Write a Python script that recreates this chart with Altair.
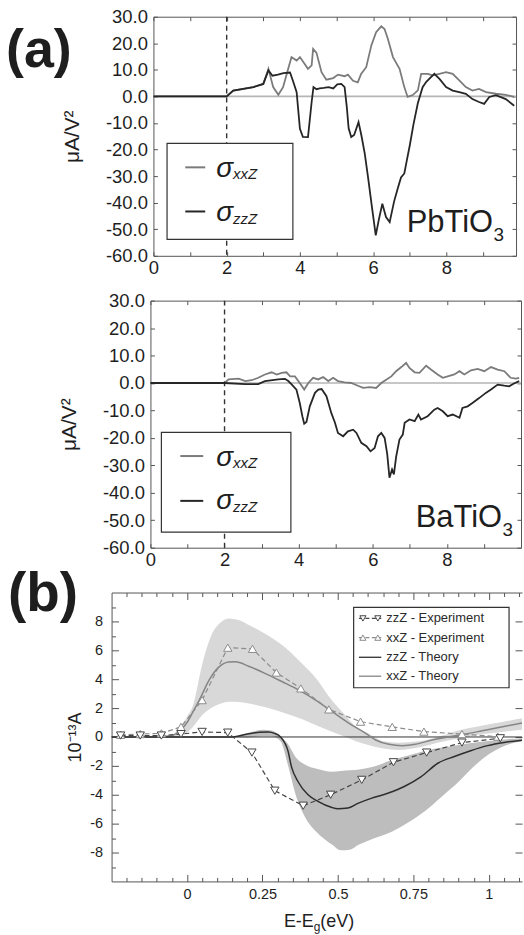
import altair as alt
import pandas as pd

FONT = "Liberation Sans"
INK = "#1e1e1e"
FRAME = "#555555"
XX_COLOR = "#7b7b7b"
ZZ_COLOR = "#262626"

# ---------------- (a) computed shift current, uA/V^2 vs photon energy (eV)
gap_e = [2.0]

pb_xx_e = [0.0, 2.0, 2.18, 2.73, 3.0, 3.14, 3.27, 3.41, 3.54, 3.68, 3.77, 3.91, 4.0, 4.13,
           4.22, 4.32, 4.36, 4.45, 4.59, 4.72, 4.91, 5.04, 5.22, 5.31, 5.45, 5.58, 5.67,
           5.81, 5.95, 6.08, 6.22, 6.31, 6.4, 6.54, 6.72, 6.85, 6.94, 7.08, 7.22, 7.31,
           7.49, 7.62, 7.81, 7.99, 8.17, 8.35, 8.53, 8.71, 8.89, 9.08, 9.35, 9.62, 9.85]
pb_xx_s = [0.0, 0.0, 2.2, 3.5, 4.7, 10.4, 3.5, 0.6, 3.5, 10.4, 14.8, 13.5, 14.8, 12.2,
           10.4, 11.7, 17.9, 16.5, 9.1, 6.3, 6.9, 8.2, 7.6, 8.2, 5.9, 5.3, 8.5,
           11.0, 19.2, 24.2, 26.4, 25.4, 21.7, 14.8, 10.4, 3.5, -0.2, 0.5, 2.3, 8.5,
           8.5, 7.9, 8.5, 9.1, 8.5, 6.0, 3.5, 2.2, 2.8, 1.6, 1.0, 0.6, -0.2]

pb_zz_e = [0.0, 2.0, 2.18, 2.73, 3.0, 3.14, 3.25, 3.4, 3.55, 3.73, 3.82, 3.91, 4.0, 4.08,
           4.22, 4.32, 4.37, 4.45, 4.54, 4.65, 4.78, 4.91, 5.02, 5.13, 5.22, 5.28, 5.33,
           5.4, 5.48, 5.6, 5.68, 5.77, 5.86, 5.96, 6.07, 6.16, 6.25, 6.35, 6.45, 6.57,
           6.67, 6.76, 6.85, 6.92, 7.0, 7.1, 7.22, 7.35, 7.45, 7.53, 7.67, 7.81, 7.99,
           8.17, 8.35, 8.53, 8.71, 8.89, 9.03, 9.17, 9.35, 9.62, 9.85]
pb_zz_s = [0.0, 0.0, 2.2, 3.5, 4.7, 9.8, 7.8, 8.2, 8.8, 9.0, 5.4, 1.6, -12.2, -15.2,
           -15.3, -2.1, 3.5, 2.7, 3.0, 3.2, 3.5, 3.0, 4.5, 4.7, 3.5, -4.0, -12.0,
           -15.3, -14.5, -9.7, -14.8, -21.5, -30.5, -41.0, -52.3, -46.0, -40.4, -45.4, -47.3, -39.6,
           -34.7, -30.5, -29.0, -24.0, -18.4, -10.5, -2.5, 3.5, 5.5, 6.6, 8.5, 6.6, 3.5,
           2.2, 1.6, 1.0, -1.0, -2.1, -2.8, -0.2, 0.5, -1.0, -3.5]

ba_xx_e = [0.0, 2.0, 2.11, 2.38, 2.56, 2.73, 2.91, 3.09, 3.27, 3.41, 3.54, 3.67, 3.77, 3.9,
           4.03, 4.15, 4.26, 4.39, 4.53, 4.66, 4.8, 4.93, 5.06, 5.24, 5.42, 5.6, 5.74,
           5.92, 6.09, 6.23, 6.36, 6.5, 6.63, 6.77, 6.9, 6.99, 7.13, 7.26, 7.44, 7.57,
           7.75, 7.89, 8.02, 8.2, 8.34, 8.47, 8.65, 8.83, 9.01, 9.19, 9.37, 9.55, 9.72,
           9.86, 9.95]
ba_xx_s = [0.0, 0.0, 1.3, 1.6, 0.7, 1.0, 1.9, 3.1, 3.9, 3.1, 3.7, 3.9, 2.4, 2.4,
           0.0, -2.4, 0.0, 1.9, 1.3, 2.2, 0.7, 1.9, 0.7, 0.2, 0.0, -1.0, -1.8,
           -1.5, -1.8, 0.0, 1.2, 2.4, 4.3, 5.8, 7.3, 5.5, 3.9, 3.7, 6.3, 4.9,
           3.1, 1.9, 2.4, 3.1, 4.3, 3.1, 4.6, 5.1, 4.3, 5.8, 4.9, 4.3, 1.9,
           1.6, 1.9]

ba_zz_e = [0.0, 2.0, 2.56, 2.91, 3.09, 3.45, 3.63, 3.72, 3.81, 3.94, 4.03, 4.1, 4.15, 4.21,
           4.3, 4.44, 4.53, 4.62, 4.75, 4.88, 4.98, 5.06, 5.2, 5.33, 5.47, 5.56, 5.69,
           5.83, 5.94, 6.05, 6.14, 6.23, 6.32, 6.39, 6.45, 6.52, 6.57, 6.63, 6.72, 6.81,
           6.86, 6.99, 7.13, 7.23, 7.3, 7.48, 7.66, 7.75, 7.89, 8.02, 8.16, 8.34, 8.42,
           8.56, 8.69, 8.87, 9.05, 9.19, 9.37, 9.55, 9.68, 9.81, 9.95]
ba_zz_s = [0.0, 0.0, -0.4, -0.4, 0.7, 1.3, 1.5, 0.7, -0.5, -2.4, -7.3, -12.1, -14.8, -14.2,
           -8.5, -3.6, -2.4, -2.2, -4.8, -10.9, -14.5, -18.2, -19.4, -17.6, -17.0, -18.2, -21.8,
           -23.0, -24.9, -23.7, -19.4, -18.2, -20.0, -25.9, -34.5, -31.5, -33.3, -26.9, -20.6, -18.8,
           -14.5, -13.3, -13.9, -11.5, -13.3, -12.1, -9.7, -9.1, -10.3, -12.1, -11.5, -12.7, -9.1,
           -8.5, -7.3, -5.5, -3.6, -2.4, -0.6, -1.0, -1.2, -0.2, 0.7]

# ---------------- (b) measured and computed current, 10^-13 A vs E - Eg (eV)
exp_zz_e = [-0.22, -0.155, -0.085, -0.02, 0.05, 0.135, 0.215, 0.291, 0.385, 0.476, 0.579,
            0.684, 0.794, 0.911, 1.038]
exp_zz_j = [0.1, 0.1, 0.1, 0.2, 0.35, 0.3, -1.08, -3.72, -4.76, -4.0, -2.97,
            -1.75, -1.08, -0.39, -0.09]
exp_xx_e = [-0.22, -0.155, -0.085, -0.02, 0.05, 0.135, 0.217, 0.296, 0.377, 0.47, 0.575,
            0.68, 0.785, 0.911, 1.03]
exp_xx_j = [0.15, 0.2, 0.25, 0.7, 2.55, 6.18, 6.1, 4.46, 3.36, 1.91, 1.06,
            0.7, 0.37, 0.2, 0.02]

th_xx_e = [-0.25, -0.1, -0.05, -0.02, 0.0, 0.02, 0.046, 0.073, 0.106, 0.139, 0.16, 0.204,
           0.26, 0.316, 0.371, 0.426, 0.481, 0.537, 0.592, 0.625, 0.669, 0.713, 0.757,
           0.812, 0.868, 0.923, 0.978, 1.033, 1.11]
th_xx_j = [0.0, 0.0, 0.1, 0.5, 1.0, 1.75, 2.78, 3.93, 4.85, 5.19, 5.2, 4.9,
           4.39, 3.82, 3.24, 2.55, 1.75, 0.94, 0.25, -0.21, -0.51, -0.6, -0.51,
           -0.21, 0.02, 0.2, 0.43, 0.66, 0.97]

th_zz_e = [-0.25, 0.15, 0.2, 0.24, 0.27, 0.29, 0.31, 0.335, 0.346, 0.368, 0.401, 0.434,
           0.478, 0.5, 0.533, 0.566, 0.61, 0.665, 0.72, 0.776, 0.831, 0.886, 0.94,
           0.996, 1.05, 1.11]
th_zz_j = [0.0, 0.0, 0.2, 0.33, 0.35, 0.25, 0.0, -1.0, -2.05, -3.1, -4.0, -4.46,
           -4.87, -4.97, -4.92, -4.6, -4.25, -3.9, -3.43, -2.74, -1.82, -1.35, -0.95,
           -0.6, -0.38, -0.22]

band_xx_e = [-0.05, 0.0, 0.02, 0.05, 0.08, 0.11, 0.14, 0.17, 0.21, 0.27, 0.33, 0.38, 0.43,
             0.47, 0.52, 0.56, 0.6, 0.65, 0.7, 0.77, 0.83, 0.9, 0.98, 1.05, 1.11]
band_xx_lo = [0.0, 0.3, 0.7, 1.5, 2.0, 2.3, 2.43, 2.42, 2.3, 2.0, 1.6, 1.25, 0.8,
              0.45, 0.05, -0.3, -0.55, -0.8, -0.9, -0.72, -0.4, -0.1, 0.2, 0.37, 0.5]
band_xx_hi = [0.05, 1.4, 2.2, 5.0, 7.0, 7.9, 8.2, 8.1, 7.7, 7.0, 6.1, 5.1, 4.0,
              2.8, 1.6, 0.7, 0.25, -0.3, -0.4, -0.3, 0.0, 0.45, 0.8, 1.06, 1.3]

band_zz_e = [0.15, 0.2, 0.25, 0.28, 0.31, 0.335, 0.36, 0.39, 0.43, 0.48, 0.51, 0.54, 0.57,
             0.61, 0.68, 0.73, 0.79, 0.84, 0.9, 0.95, 1.0, 1.06, 1.11]
band_zz_lo = [0.0, -0.05, 0.05, 0.05, -0.3, -2.0, -4.0, -5.5, -6.6, -7.45, -7.85, -7.8, -7.45,
              -7.1, -6.55, -5.95, -5.1, -4.2, -3.1, -2.05, -1.2, -0.55, -0.3]
band_zz_hi = [0.0, 0.25, 0.5, 0.45, 0.05, -0.5, -1.4, -1.9, -2.2, -2.4, -2.35, -2.3, -2.25,
              -2.1, -1.6, -1.3, -0.95, -0.75, -0.55, -0.4, -0.28, -0.15, -0.08]

b_legend_labels = ["zzZ - Experiment", "xxZ - Experiment", "zzZ - Theory", "xxZ - Theory"]

# tick values
a_x_labels = [0, 2, 4, 6, 8]
a_x_ticks = [0, 1, 2, 3, 4, 5, 6, 7, 8, 9]
a_y_values = [-60, -50, -40, -30, -20, -10, 0, 10, 20, 30]
b_x_labels = [0, 0.25, 0.5, 0.75, 1.0]
b_x_ticks = [round(-0.2 + 0.05 * i, 2) for i in range(27)]
b_y_labels = [-8, -6, -4, -2, 0, 2, 4, 6, 8]
b_y_ticks = list(range(-9, 10))
b_y_right = [-8, -6, -4, -2, 0, 2, 4, 6, 8]

for a, b in [(pb_xx_e, pb_xx_s), (pb_zz_e, pb_zz_s), (ba_xx_e, ba_xx_s), (ba_zz_e, ba_zz_s),
             (exp_zz_e, exp_zz_j), (exp_xx_e, exp_xx_j), (th_xx_e, th_xx_j), (th_zz_e, th_zz_j),
             (band_xx_e, band_xx_lo), (band_xx_e, band_xx_hi), (band_zz_e, band_zz_lo),
             (band_zz_e, band_zz_hi)]:
    assert len(a) == len(b)

one = pd.DataFrame({"k": [0]})


def text(s, x, y, size, **kw):
    props = dict(font=FONT, color=INK, align="left", baseline="alphabetic")
    props.update(kw)
    return alt.Chart(one).mark_text(text=s, fontSize=size, **props).encode(
        x=alt.value(x), y=alt.value(y))


def hline(x0, x1, y, color, width=2.0, dash=None):
    kw = dict(color=color, strokeWidth=width)
    if dash:
        kw["strokeDash"] = dash
    return alt.Chart(one).mark_rule(**kw).encode(
        x=alt.value(x0), x2=alt.value(x1), y=alt.value(y))


def box(x0, x1, y0, y1):
    return alt.Chart(one).mark_rect(fill="white", stroke="#333333", strokeWidth=1.2).encode(
        x=alt.value(x0), x2=alt.value(x1), y=alt.value(y0), y2=alt.value(y1))


def carrier(xs, ys, xv, yv, ax, ay):
    df = pd.DataFrame({"cx": [xv], "cy": [yv]})
    return alt.Chart(df).mark_point(opacity=0).encode(
        x=alt.X("cx:Q", scale=xs, axis=ax),
        y=alt.Y("cy:Q", scale=ys, axis=ay))


def tick_axis(orient, offset, values, size, domain=True):
    return alt.Axis(orient=orient, offset=offset, values=values, labels=False, ticks=True,
                    tickSize=size, tickColor=FRAME, tickWidth=1, domain=domain,
                    domainColor=FRAME, domainWidth=1, grid=False, title=None, minExtent=0)


def panel_a(xx_e, xx_s, zz_e, zz_s, W, H, xoff, xmax, leg, name, tag=None):
    xs = alt.Scale(domain=[0, xmax], range=[xoff, W], nice=False, zero=False)
    ys = alt.Scale(domain=[-60, 30], nice=False, zero=False)

    xx = pd.DataFrame({"e": xx_e, "s": xx_s})
    zz = pd.DataFrame({"e": zz_e, "s": zz_s})
    zero = pd.DataFrame({"e0": [0.0], "e1": [xmax], "s0": [0.0]})
    gap = pd.DataFrame({"e": gap_e})

    layers = [
        alt.Chart(zero).mark_rule(color="#b5b5b5", strokeWidth=1.6).encode(
            x=alt.X("e0:Q", scale=xs, axis=None), x2="e1:Q",
            y=alt.Y("s0:Q", scale=ys, axis=None)),
        alt.Chart(gap).mark_rule(color="#333333", strokeWidth=1.4, strokeDash=[5, 4]).encode(
            x=alt.X("e:Q", scale=xs, axis=None)),
        alt.Chart(xx).mark_line(color=XX_COLOR, strokeWidth=1.8).encode(
            x=alt.X("e:Q", scale=xs, axis=None), y=alt.Y("s:Q", scale=ys, axis=None)),
        alt.Chart(zz).mark_line(color=ZZ_COLOR, strokeWidth=1.8).encode(
            x=alt.X("e:Q", scale=xs, axis=None), y=alt.Y("s:Q", scale=ys, axis=None)),
    ]

    # legend box with sigma labels
    bx0, bx1, by0, by1, sx0, sx1, ly1, ly2, tx, b1, b2 = leg
    layers += [
        box(bx0, bx1, by0, by1),
        hline(sx0, sx1, ly1, XX_COLOR),
        hline(sx0, sx1, ly2, ZZ_COLOR),
        text("σ", tx, b1, 28, fontStyle="italic", align="right"),
        text("xxZ", tx, b1 + 2.5, 15, fontStyle="italic"),
        text("σ", tx, b2, 28, fontStyle="italic", align="right"),
        text("zzZ", tx, b2 + 2.5, 15, fontStyle="italic"),
    ]

    # compound label with subscript
    nm, nx, ny = name
    layers += [
        text(nm, nx, ny, 31, align="right"),
        text("3", nx + 0.5, ny + 8.5, 19),
    ]
    if tag:
        layers.append(text(tag[0], tag[1], tag[2], 54, fontWeight="bold"))

    ax_lab = alt.Axis(orient="bottom", values=a_x_labels, ticks=False, tickSize=0, domain=False,
                      labelFlush=False, labelPadding=3, labelFontSize=18.5, labelColor=INK,
                      labelExpr="'' + datum.value", title=None, grid=False)
    ay_lab = alt.Axis(orient="left", offset=-xoff, values=a_y_values, ticks=False, tickSize=0,
                      domain=False, labelPadding=6, labelFontSize=18.5, labelColor=INK,
                      labelExpr="(datum.value < 0 ? '-' : '') + format(abs(datum.value), '.1f')",
                      title="μA/V²", titleFontSize=21, titleFontWeight="normal",
                      titleColor=INK, titlePadding=23, grid=False, minExtent=0)
    layers += [
        carrier(xs, ys, 0, 0, ax_lab, ay_lab),
        carrier(xs, ys, 0, 0, tick_axis("top", -H, a_x_ticks, 4),
                tick_axis("right", xoff - W, a_y_values, 4)),
        carrier(xs, ys, 0, 0, tick_axis("bottom", -H, a_x_ticks, 4),
                tick_axis("left", -W, a_y_values, 4)),
    ]
    return alt.layer(*layers).resolve_axis(x="independent", y="independent").properties(
        width=W, height=H)


def panel_b(W, H):
    xs = alt.Scale(domain=[-0.25, 1.11], nice=False, zero=False)
    ys = alt.Scale(domain=[-10, 10], nice=False, zero=False)
    X = lambda f: alt.X(f, type="quantitative", scale=xs, axis=None)
    Y = lambda f: alt.Y(f, type="quantitative", scale=ys, axis=None)

    bxx = pd.DataFrame({"e": band_xx_e, "lo": band_xx_lo, "hi": band_xx_hi})
    bzz = pd.DataFrame({"e": band_zz_e, "lo": band_zz_lo, "hi": band_zz_hi})
    txx = pd.DataFrame({"e": th_xx_e, "j": th_xx_j})
    tzz = pd.DataFrame({"e": th_zz_e, "j": th_zz_j})
    exx = pd.DataFrame({"e": exp_xx_e, "j": exp_xx_j})
    ezz = pd.DataFrame({"e": exp_zz_e, "j": exp_zz_j})
    zero = pd.DataFrame({"j": [0.0]})

    EXP_ZZ = "#454545"
    EXP_XX = "#8c8c8c"
    layers = [
        alt.Chart(bxx).mark_area(color="#d8d8d8", interpolate="monotone", clip=True).encode(
            x=X("e"), y=Y("lo"), y2="hi"),
        alt.Chart(bzz).mark_area(color="#bdbdbd", interpolate="monotone", clip=True).encode(
            x=X("e"), y=Y("lo"), y2="hi"),
        alt.Chart(zero).mark_rule(color="#333333", strokeWidth=1).encode(y=Y("j")),
        alt.Chart(txx).mark_line(color="#858585", strokeWidth=1.5, interpolate="monotone",
                                 clip=True).encode(x=X("e"), y=Y("j")),
        alt.Chart(tzz).mark_line(color="#2e2e2e", strokeWidth=1.5, interpolate="monotone",
                                 clip=True).encode(x=X("e"), y=Y("j")),
        alt.Chart(exx).mark_line(color=EXP_XX, strokeWidth=1.2, strokeDash=[5, 3],
                                 clip=True).encode(x=X("e"), y=Y("j")),
        alt.Chart(ezz).mark_line(color=EXP_ZZ, strokeWidth=1.2, strokeDash=[5, 3],
                                 clip=True).encode(x=X("e"), y=Y("j")),
        alt.Chart(exx).mark_point(shape="triangle-up", size=70, fill="white", stroke=EXP_XX,
                                  strokeWidth=1, opacity=1, filled=False, clip=True).encode(
            x=X("e"), y=Y("j")),
        alt.Chart(ezz).mark_point(shape="triangle-down", size=70, fill="white", stroke=EXP_ZZ,
                                  strokeWidth=1, opacity=1, filled=False, clip=True).encode(
            x=X("e"), y=Y("j")),
    ]

    # legend
    rows = [26, 45.3, 65, 84]
    styles = [(EXP_ZZ, [4, 2.5], "triangle-down"), (EXP_XX, [4, 2.5], "triangle-up"),
              ("#2e2e2e", None, None), ("#858585", None, None)]
    layers.append(box(243, 399, 15, 95.6))
    for lab, ry, (col, dash, shape) in zip(b_legend_labels, rows, styles):
        layers.append(hline(248.3, 270.7, ry, col, width=1.3, dash=dash))
        if shape:
            for mx in (252.3, 267.3):
                layers.append(alt.Chart(one).mark_point(
                    shape=shape, size=38, fill="white", stroke=col, strokeWidth=1,
                    opacity=1, filled=False).encode(x=alt.value(mx), y=alt.value(ry)))
        layers.append(text(lab, 275.7, ry, 13, baseline="middle", color="#2a2a2a"))

    # panel tag and x title with subscript
    layers += [
        text("(b)", -104, 19, 55, fontWeight="bold"),
        text("E-E", 203, 336, 18, align="right"),
        text("g", 203, 339.5, 12),
        text("(eV)", 209.5, 336, 18),
    ]

    major_x = "abs(datum.value * 4 - round(datum.value * 4)) < 0.001"
    major_y = "abs(datum.value % 2) < 0.001"
    size_x = {"condition": {"test": major_x, "value": 7}, "value": 4}
    size_y = {"condition": {"test": major_y, "value": 7}, "value": 4}

    ax_lab = alt.Axis(orient="bottom", values=b_x_labels, ticks=False, tickSize=0, domain=False,
                      labelFlush=False, labelPadding=6, labelFontSize=14.5, labelColor=INK,
                      labelExpr="'' + datum.value", title=None, grid=False)
    ay_lab = alt.Axis(orient="left", values=b_y_labels, ticks=False, tickSize=0, domain=False,
                      labelPadding=9, labelFontSize=14.5, labelColor=INK,
                      labelExpr="'' + datum.value", title="10⁻¹³A", titleFontSize=18,
                      titleFontWeight="normal", titleColor=INK, titlePadding=5, grid=False,
                      minExtent=0)
    layers += [
        carrier(xs, ys, 0, 0, ax_lab, ay_lab),
        carrier(xs, ys, 0, 0, tick_axis("top", -H, b_x_ticks, size_x),
                tick_axis("right", -W, b_y_ticks, size_y)),
        carrier(xs, ys, 0, 0, tick_axis("bottom", -H, b_x_ticks, size_x),
                tick_axis("left", -W, b_y_right, 7, domain=False)),
    ]
    return alt.layer(*layers).resolve_axis(x="independent", y="independent").properties(
        width=W, height=H)


top = panel_a(pb_xx_e, pb_xx_s, pb_zz_e, pb_zz_s, W=406, H=240, xoff=42, xmax=9.9,
              leg=(55.7, 182, 127.2, 223.5, 74, 94, 151.2, 195.5, 122, 160.5, 205.5),
              name=("PbTiO", 383, 216.5), tag=("(a)", -106, 50))
mid = panel_a(ba_xx_e, ba_xx_s, ba_zz_e, ba_zz_s, W=411, H=248, xoff=39, xmax=10.0,
              leg=(50, 180, 132.3, 232.3, 69, 92, 156, 201, 122, 166, 209.3),
              name=("BaTiO", 392, 227.6))
bottom = panel_b(W=412, H=290)

chart = alt.vconcat(top, mid, bottom, spacing=45, bounds="flush").properties(
    padding={"left": 5, "top": 5, "right": 0, "bottom": 0}
).configure_view(stroke="transparent").configure_axis(labelFont=FONT, titleFont=FONT)

chart.save("out.html", embed_options={"renderer": "svg", "actions": False})
